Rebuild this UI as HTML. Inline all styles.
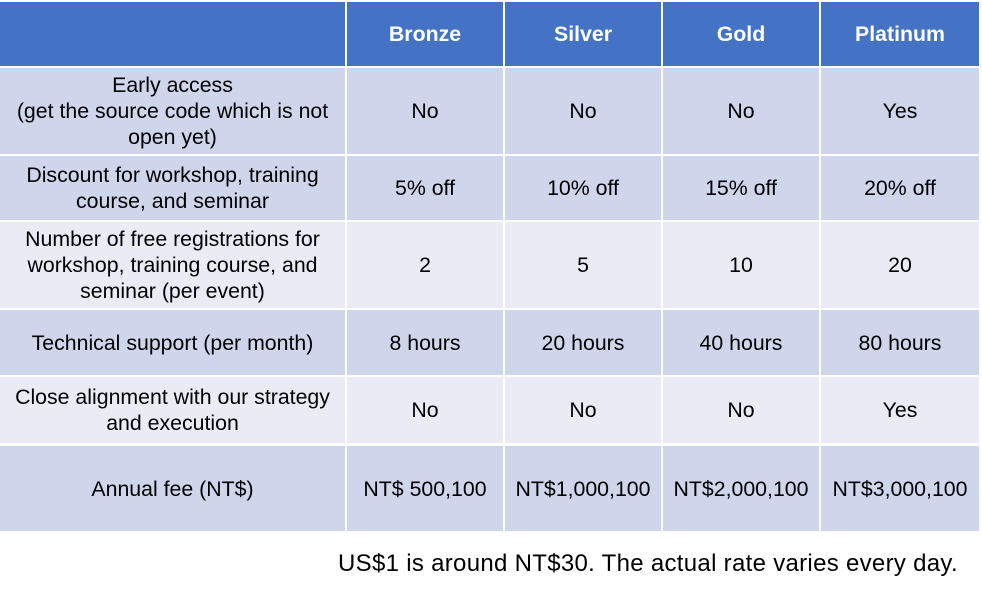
<!DOCTYPE html>
<html><head><meta charset="utf-8"><style>
body{margin:0;width:982px;height:598px;background:#fff;position:relative;overflow:hidden;font-family:"Liberation Sans",Arial,sans-serif}
.c{position:absolute;display:flex;align-items:center;justify-content:center;text-align:center;font-size:21.3px;line-height:26px;color:#000;box-sizing:border-box;padding:0 2px;white-space:nowrap}
.h{background:#4472C4;color:#fff;font-weight:bold}
.d{background:#CFD5EA}.l{background:#E9EBF5}
#foot{position:absolute;left:338px;top:550px;font-size:24px;color:#000;white-space:nowrap;font-family:"Liberation Sans",sans-serif;letter-spacing:0.3px}
</style></head><body>
<div id="t"></div>
<div id="foot">US$1 is around NT$30. The actual rate varies every day.</div>
<script>
const cols=[[0,345],[347,503],[505,661],[663,819],[821,979]];
const rows=[[2,66,'h'],[68,154,'d'],[156,220,'d'],[222,308,'l'],[310,375,'d'],[377,443,'l'],[446,531,'d']];
const headers=['','Bronze','Silver','Gold','Platinum'];
const features=['Early access<br>(get the source code which is not<br>open yet)','Discount for workshop, training<br>course, and seminar','Number of free registrations for<br>workshop, training course, and<br>seminar (per event)','Technical support (per month)','Close alignment with our strategy<br>and execution','Annual fee (NT$)'];
const values=[['No','No','No','Yes'],['5% off','10% off','15% off','20% off'],['2','5','10','20'],['8 hours','20 hours','40 hours','80 hours'],['No','No','No','Yes'],['NT$ 500,100','NT$1,000,100','NT$2,000,100','NT$3,000,100']];
const t=document.getElementById('t');
rows.forEach((r,ri)=>{cols.forEach((c,ci)=>{
 const el=document.createElement('div');
 el.className='c '+r[2];
 el.style.left=c[0]+'px';el.style.width=(c[1]-c[0])+'px';
 el.style.top=r[0]+'px';el.style.height=(r[1]-r[0])+'px';
 let txt=ri===0?headers[ci]:(ci===0?features[ri-1]:values[ri-1][ci-1]);
 el.innerHTML=txt;
 
 
 t.appendChild(el);
});});
</script>
</body></html>
